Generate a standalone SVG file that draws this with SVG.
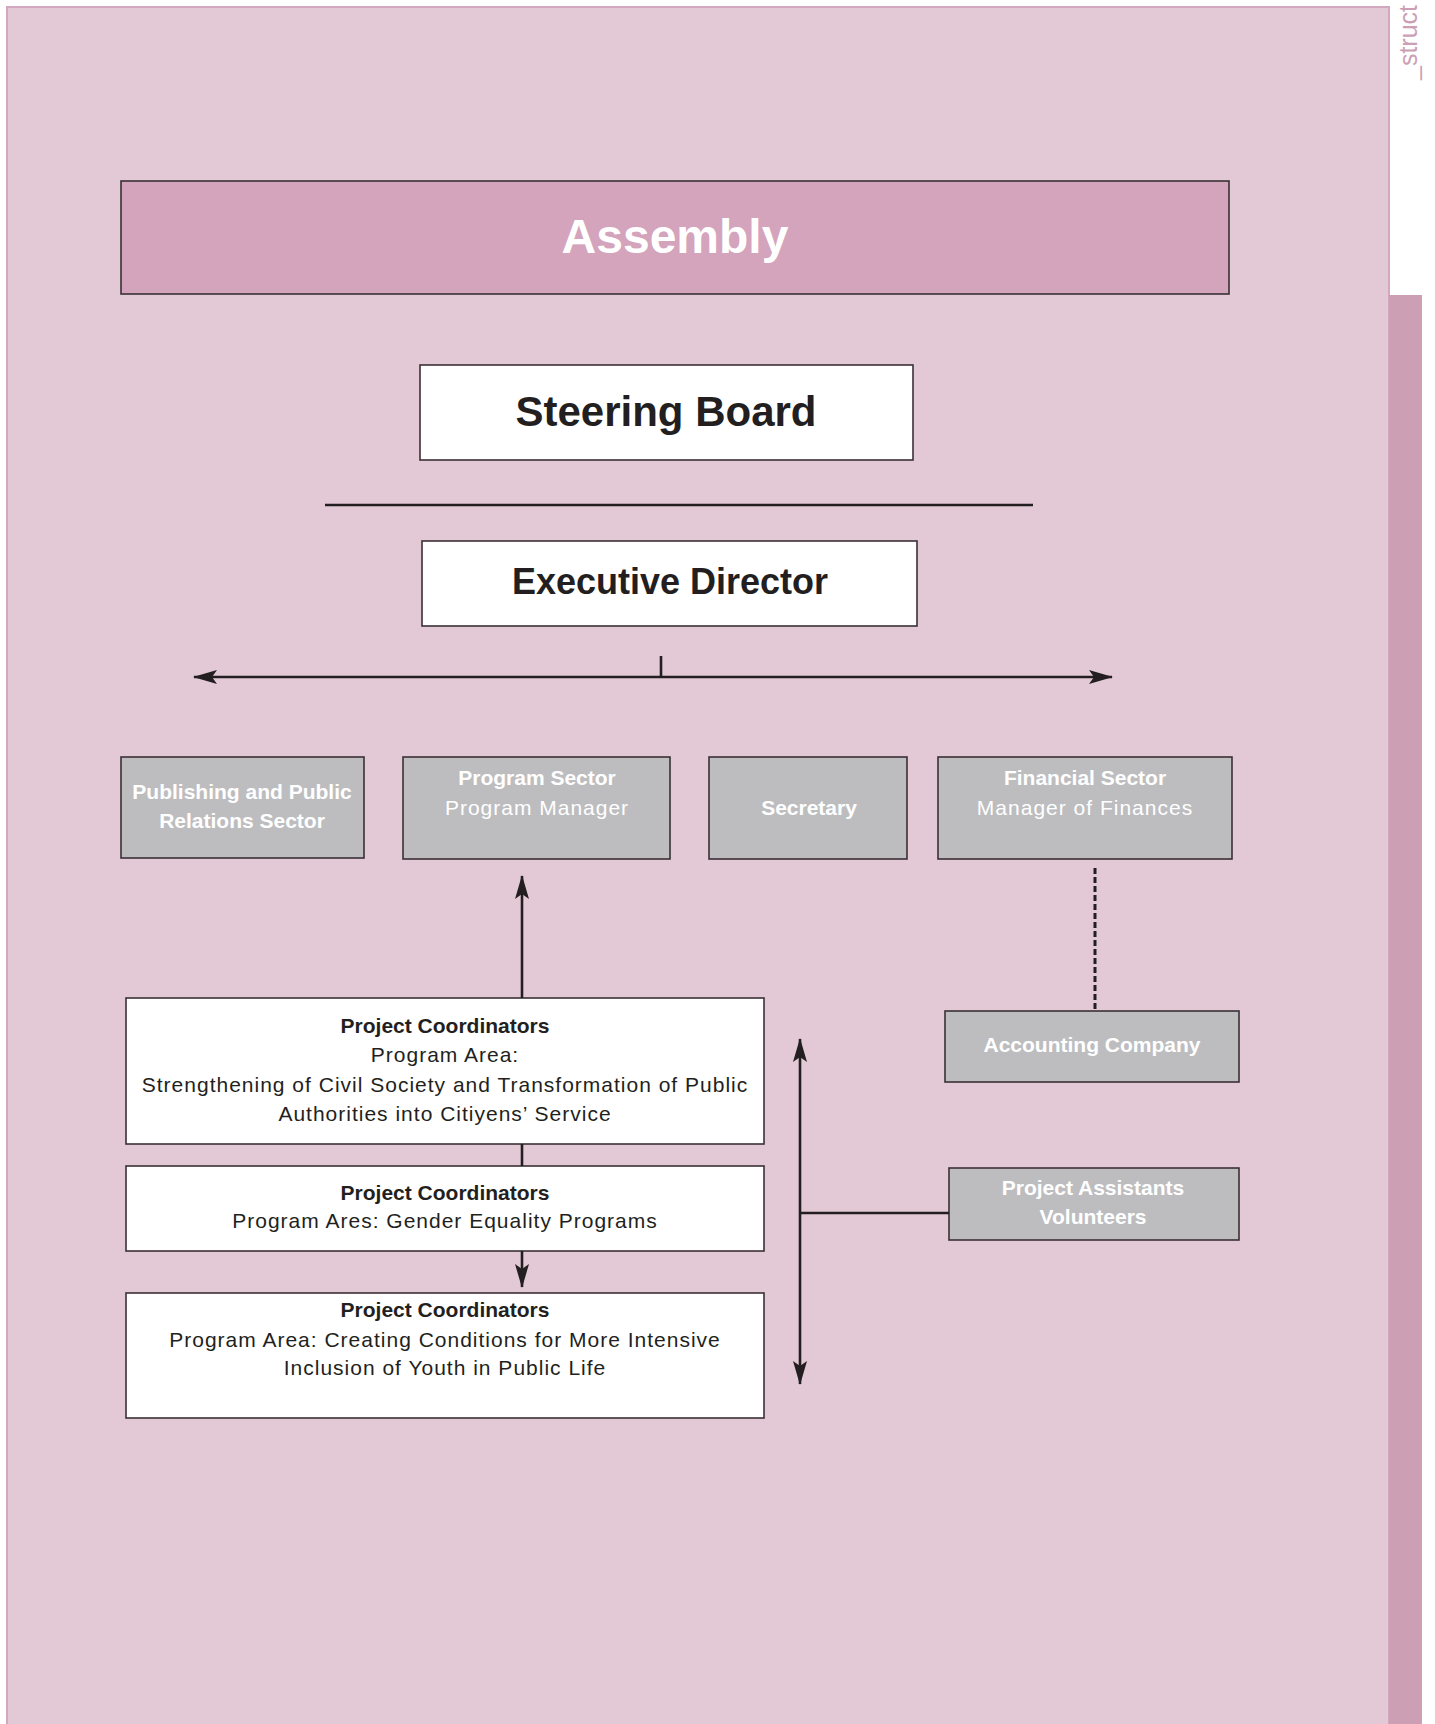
<svg xmlns="http://www.w3.org/2000/svg" width="1435" height="1724" viewBox="0 0 1435 1724">
<defs>
<marker id="ah" viewBox="0 0 24 14" refX="23" refY="7" markerWidth="24" markerHeight="14" markerUnits="userSpaceOnUse" orient="auto-start-reverse">
<path d="M0,0 L24,7 L0,14 L5,7 Z" fill="#231f20"/>
</marker>
</defs>
<style>
.box{stroke:#3a3035;stroke-width:1.6}
.w{fill:#ffffff}
.g{fill:#bdbdbf}
.t{font-family:"Liberation Sans",Arial,sans-serif;text-anchor:middle}
.b{font-weight:bold}
.wt{fill:#ffffff}
.bt{fill:#231f20}
.r{letter-spacing:1px}
.ln{stroke:#231f20;stroke-width:2.6;fill:none}
</style>
<rect x="0" y="0" width="1435" height="1724" fill="#ffffff"/>
<rect x="7" y="7" width="1382" height="1730" fill="#e3c9d6" stroke="#d3a8be" stroke-width="2"/>
<rect x="1389" y="295" width="33" height="1429" fill="#cc9fb5"/>
<text x="0" y="0" transform="translate(1417,80) rotate(-90)" font-family="Liberation Sans,Arial,sans-serif" font-size="25" fill="#cc9fb5">_struct</text>

<g id="assembly">
<rect class="box" x="121" y="181" width="1108" height="113" fill="#d4a3bc"/>
<text class="t b wt" x="675" y="253" font-size="48">Assembly</text>
</g>
<g id="steering-board">
<rect class="box w" x="420" y="365" width="493" height="95"/>
<text class="t b bt" x="666" y="426" font-size="42">Steering Board</text>
</g>
<g id="executive-director">
<rect class="box w" x="422" y="541" width="495" height="85"/>
<text class="t b bt" x="670" y="594" font-size="36">Executive Director</text>
</g>
<g id="publishing">
<rect class="box g" x="121" y="757" width="243" height="101"/>
<text class="t b wt" x="242" y="799" font-size="21">Publishing and Public</text>
<text class="t b wt" x="242" y="828" font-size="21">Relations Sector</text>
</g>
<g id="program-sector">
<rect class="box g" x="403" y="757" width="267" height="102"/>
<text class="t b wt" x="537" y="785" font-size="21">Program Sector</text>
<text class="t wt r" x="537" y="815" font-size="21">Program Manager</text>
</g>
<g id="secretary">
<rect class="box g" x="709" y="757" width="198" height="102"/>
<text class="t b wt" x="809" y="815" font-size="21">Secretary</text>
</g>
<g id="financial-sector">
<rect class="box g" x="938" y="757" width="294" height="102"/>
<text class="t b wt" x="1085" y="785" font-size="21">Financial Sector</text>
<text class="t wt r" x="1085" y="815" font-size="21">Manager of Finances</text>
</g>
<g id="accounting-company">
<rect class="box g" x="945" y="1011" width="294" height="71"/>
<text class="t b wt" x="1092" y="1052" font-size="21">Accounting Company</text>
</g>
<g id="project-assistants">
<rect class="box g" x="949" y="1168" width="290" height="72"/>
<text class="t b wt" x="1093" y="1195" font-size="21">Project Assistants</text>
<text class="t b wt" x="1093" y="1224" font-size="21">Volunteers</text>
</g>
<g id="coordinators-1">
<rect class="box w" x="126" y="998" width="638" height="146"/>
<text class="t b bt" x="445" y="1033" font-size="21">Project Coordinators</text>
<text class="t bt r" x="445" y="1062" font-size="21">Program Area:</text>
<text class="t bt r" x="445" y="1092" font-size="21">Strengthening of Civil Society and Transformation of Public</text>
<text class="t bt r" x="445" y="1121" font-size="21">Authorities into Citiyens’ Service</text>
</g>
<g id="coordinators-2">
<rect class="box w" x="126" y="1166" width="638" height="85"/>
<text class="t b bt" x="445" y="1200" font-size="21">Project Coordinators</text>
<text class="t bt r" x="445" y="1228" font-size="21">Program Ares: Gender Equality Programs</text>
</g>
<g id="coordinators-3">
<rect class="box w" x="126" y="1293" width="638" height="125"/>
<text class="t b bt" x="445" y="1317" font-size="21">Project Coordinators</text>
<text class="t bt r" x="445" y="1347" font-size="21">Program Area: Creating Conditions for More Intensive</text>
<text class="t bt r" x="445" y="1375" font-size="21">Inclusion of Youth in Public Life</text>
</g>

<g id="connectors">
<line class="ln" x1="325" y1="505" x2="1033" y2="505"/>
<line class="ln" x1="194" y1="677" x2="1112" y2="677" marker-start="url(#ah)" marker-end="url(#ah)"/>
<line class="ln" x1="661" y1="656" x2="661" y2="677"/>
<line class="ln" x1="522" y1="998" x2="522" y2="876" marker-end="url(#ah)"/>
<line class="ln" x1="522" y1="1144" x2="522" y2="1166"/>
<line class="ln" x1="522" y1="1251" x2="522" y2="1287" marker-end="url(#ah)"/>
<line class="ln" x1="800" y1="1039" x2="800" y2="1384" marker-start="url(#ah)" marker-end="url(#ah)"/>
<line class="ln" x1="800" y1="1213" x2="949" y2="1213"/>
<line x1="1095" y1="868" x2="1095" y2="1010" stroke="#231f20" stroke-width="3" stroke-dasharray="6,3"/>
</g>
</svg>
